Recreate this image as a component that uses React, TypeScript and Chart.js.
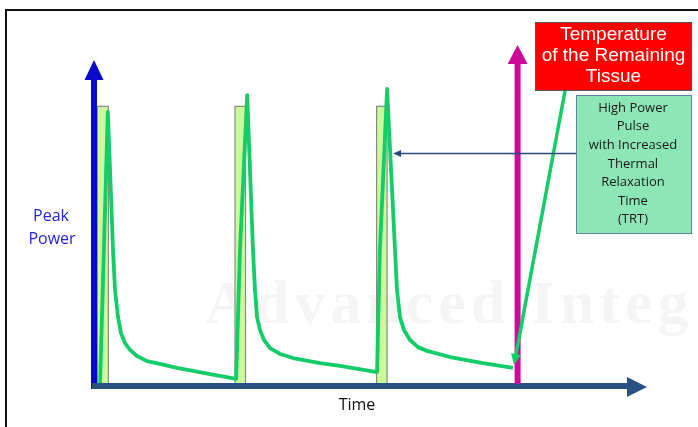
import React, { useEffect, useRef } from "react";
import { Chart, registerables } from "chart.js";

Chart.register(...registerables);

// Pulses (power) – time in arbitrary units, height in % of peak power
const pulseStart = [0.6, 25.5, 51.1];
const pulseEnd = [2.6, 27.4, 53.0];
const pulseHeight = [82, 82, 82];

// Temperature of the tissue
const tempTime = [
  1.1, 2.5, 3.44, 3.8, 4.34, 4.88, 5.61, 6.51, 7.78, 9.58, 11.9, 15.0, 21.0, 25.7,
  26.4, 27.7, 28.75, 29.11, 29.48, 30.02, 30.74, 31.83, 33.63, 35.99, 40.87, 44.49, 51.18,
  51.7, 53.0, 54.43, 54.79, 55.33, 56.06, 57.14, 58.59, 60.22, 64.38, 70.34, 75.77,
];
const tempValue = [
  0.9, 80.4, 39.9, 28.2, 20.2, 15.5, 12.6, 10.6, 8.8, 7.3, 6.5, 5.3, 3.5, 2.1,
  39.9, 85.3, 39.9, 28.2, 20.2, 16.4, 13.5, 11.1, 9.4, 8.2, 6.7, 5.9, 4.1,
  39.9, 87.1, 39.9, 28.2, 20.2, 16.4, 13.5, 11.4, 10.3, 8.5, 6.7, 5.3,
];

const markerTime = 76.6;
const pointerLevel = 68.3;

const yAxisLabel = ["Peak", "Power"];
const xAxisLabel = "Time";
const redBoxLines = ["Temperature", "of the Remaining", "Tissue"];
const greenBoxLines = ["High Power", "Pulse", "with Increased", "Thermal", "Relaxation", "Time", "(TRT)"];
const watermark = "Advanced Integ";

const CURVE = "#14CC68";

function arrowHead(ctx: CanvasRenderingContext2D, tipX: number, tipY: number, dx: number, dy: number, len: number, half: number, color: string) {
  const l = Math.hypot(dx, dy);
  const ux = dx / l, uy = dy / l;
  const bx = tipX - ux * len, by = tipY - uy * len;
  ctx.beginPath();
  ctx.moveTo(tipX, tipY);
  ctx.lineTo(bx - uy * half, by + ux * half);
  ctx.lineTo(bx + uy * half, by - ux * half);
  ctx.closePath();
  ctx.fillStyle = color;
  ctx.fill();
}

const decor = {
  id: "decor",
  beforeDatasetsDraw(chart: any) {
    const { ctx, width, height } = chart;
    ctx.save();
    // watermark
    ctx.fillStyle = "rgba(0,0,0,0.04)";
    ctx.font = "bold 62px 'Liberation Serif', serif";
    (ctx as any).letterSpacing = "5px";
    ctx.textBaseline = "alphabetic";
    ctx.textAlign = "left";
    ctx.fillText(watermark, 205, 323);
    (ctx as any).letterSpacing = "0px";
    // frame
    ctx.strokeStyle = "#111";
    ctx.lineWidth = 2;
    ctx.beginPath();
    ctx.moveTo(6, height);
    ctx.lineTo(6, 10);
    ctx.lineTo(width, 10);
    ctx.stroke();
    ctx.restore();
  },
  afterDatasetsDraw(chart: any) {
    const { ctx, chartArea } = chart;
    const xs = chart.scales.x;
    const ys = chart.scales.y;
    const { left, right, top, bottom } = chartArea;
    ctx.save();

    // y axis (blue)
    ctx.strokeStyle = "#0A0ACC";
    ctx.lineWidth = 6;
    ctx.beginPath();
    ctx.moveTo(left, bottom + 3);
    ctx.lineTo(left, top + 30);
    ctx.stroke();
    arrowHead(ctx, left, top + 15, 0, -1, 20, 9.5, "#0A0ACC");

    // x axis (dark blue)
    ctx.strokeStyle = "#2B5083";
    ctx.lineWidth = 6;
    ctx.beginPath();
    ctx.moveTo(left - 2, bottom);
    ctx.lineTo(right - 15, bottom);
    ctx.stroke();
    arrowHead(ctx, right, bottom + 1, 1, 0, 20, 10, "#2B5083");

    // magenta marker
    const mx = xs.getPixelForValue(markerTime);
    ctx.strokeStyle = "#CC0A99";
    ctx.lineWidth = 6;
    ctx.beginPath();
    ctx.moveTo(mx, bottom - 2);
    ctx.lineTo(mx, top + 15);
    ctx.stroke();
    arrowHead(ctx, mx, top, 0, -1, 19, 10, "#CC0A99");

    // red box
    const rb = { x: 535, y: 22, w: 157, h: 69 };
    ctx.fillStyle = "#FF0000";
    ctx.fillRect(rb.x, rb.y, rb.w, rb.h);
    ctx.strokeStyle = "#555";
    ctx.lineWidth = 1;
    ctx.strokeRect(rb.x + 0.5, rb.y + 0.5, rb.w - 1, rb.h - 1);
    ctx.fillStyle = "#FFFFFF";
    ctx.font = "19px 'Liberation Sans', Arial, sans-serif";
    ctx.textAlign = "center";
    ctx.textBaseline = "middle";
    redBoxLines.forEach((t, i) => ctx.fillText(t, rb.x + rb.w / 2, 35 + i * 21));

    // green pointer from red box to end of curve
    const endX = xs.getPixelForValue(tempTime[tempTime.length - 1]);
    const endY = ys.getPixelForValue(tempValue[tempValue.length - 1]);
    const sx = 565, sy = 91;
    const tx = endX + 1, ty = endY - 3;
    ctx.strokeStyle = CURVE;
    ctx.lineWidth = 3.5;
    ctx.beginPath();
    ctx.moveTo(sx, sy);
    const dl = Math.hypot(tx - sx, ty - sy);
    ctx.lineTo(tx - ((tx - sx) / dl) * 8, ty - ((ty - sy) / dl) * 8);
    ctx.stroke();
    arrowHead(ctx, tx, ty, tx - sx, ty - sy, 11, 5, CURVE);

    // green box
    const gb = { x: 576, y: 95, w: 116, h: 139 };
    ctx.fillStyle = "#8CE6B6";
    ctx.fillRect(gb.x, gb.y, gb.w, gb.h);
    ctx.strokeStyle = "#5E86A2";
    ctx.lineWidth = 1;
    ctx.strokeRect(gb.x + 0.5, gb.y + 0.5, gb.w - 1, gb.h - 1);
    ctx.fillStyle = "#1A1A1A";
    ctx.font = "13px 'Open Sans', sans-serif";
    greenBoxLines.forEach((t, i) => ctx.fillText(t, gb.x + gb.w / 2 - 1, 108 + i * 18.6));

    // horizontal pointer to third pulse
    const py = Math.round(ys.getPixelForValue(pointerLevel)) + 0.5;
    const ptx = xs.getPixelForValue(pulseEnd[2]) + 6;
    ctx.strokeStyle = "#2B4A7E";
    ctx.lineWidth = 1.5;
    ctx.beginPath();
    ctx.moveTo(gb.x, py);
    ctx.lineTo(ptx + 6, py);
    ctx.stroke();
    arrowHead(ctx, ptx, py, -1, 0, 8, 3.5, "#2B4A7E");

    // labels
    ctx.font = "16px 'Open Sans', sans-serif";
    ctx.fillStyle = "#2424D8";
    ctx.fillText(yAxisLabel[0], 51, 216);
    ctx.fillText(yAxisLabel[1], 52, 239);
    ctx.fillStyle = "#111";
    ctx.fillText(xAxisLabel, 357, 405);

    ctx.restore();
  },
};

export default function App() {
  const ref = useRef<HTMLCanvasElement | null>(null);
  useEffect(() => {
    if (!ref.current) return;
    const pulseSets = pulseStart.map((s, i) => ({
      type: "line" as const,
      data: [
        { x: s, y: 0 },
        { x: s, y: pulseHeight[i] },
        { x: pulseEnd[i], y: pulseHeight[i] },
        { x: pulseEnd[i], y: 0 },
      ],
      borderColor: "#8A8A8A",
      borderWidth: 1.2,
      backgroundColor: "#CCFA9A",
      fill: "origin",
      pointRadius: 0,
      tension: 0,
      order: 2,
    }));
    const chart = new Chart(ref.current, {
      type: "scatter",
      data: {
        datasets: [
          ...pulseSets,
          {
            type: "line" as const,
            data: tempTime.map((t, i) => ({ x: t, y: tempValue[i] })),
            borderColor: CURVE,
            borderWidth: 3.8,
            pointRadius: 0,
            tension: 0,
            fill: false,
            borderJoinStyle: "round",
            order: 1,
          },
        ] as any,
      },
      options: {
        responsive: false,
        animation: false,
        events: [],
        layout: { padding: { left: 94, right: 51, top: 45, bottom: 41 } },
        plugins: { legend: { display: false }, tooltip: { enabled: false }, title: { display: false } },
        scales: {
          x: { type: "linear", min: 0, max: 100, display: false },
          y: { type: "linear", min: 0, max: 100, display: false },
        },
      },
      plugins: [decor],
    });
    return () => chart.destroy();
  }, []);
  return (
    <div style={{ position: "absolute", left: 0, top: 0, width: 698, height: 427, background: "#fff" }}>
      <canvas ref={ref} width={698} height={427} style={{ display: "block" }} />
    </div>
  );
}
